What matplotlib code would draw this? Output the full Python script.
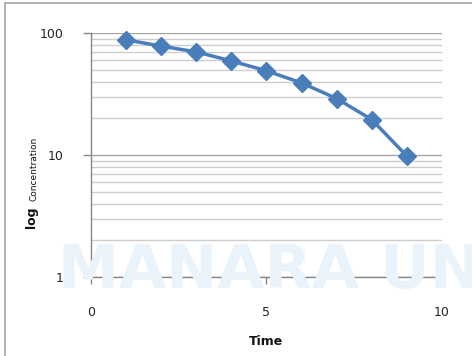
import matplotlib
matplotlib.use("Agg")
import matplotlib.pyplot as plt
from matplotlib.ticker import LogLocator, NullFormatter, FixedLocator, FixedFormatter
from matplotlib.lines import Line2D

# Concentration over time
time = [1, 2, 3, 4, 5, 6, 7, 8, 9]
concentration = [88, 78, 70, 59, 49, 39, 29, 19.5, 9.8]

x_ticks = [0, 5, 10]
y_ticks = [1, 10, 100]
y_tick_labels = ["1", "10", "100"]

line_color = "#4a7ebb"
minor_grid_color = "#cdcdcd"
major_grid_color = "#a8a8a8"
axis_color = "#868686"
text_color = "#222222"

fig = plt.figure(figsize=(4.72, 3.56), dpi=100)
fig.patch.set_facecolor("white")

# faint background watermark
fig.text(0.122, 0.155, "MANARA UNIVERSITY", fontsize=44, fontweight="bold",
         color="#ebf3fa", ha="left", va="bottom", zorder=0, clip_on=True)

ax = fig.add_axes([0.1928, 0.2219, 0.7436, 0.6854])
ax.set_facecolor("none")
ax.set_yscale("log")
ax.set_xlim(0, 10)
ax.set_ylim(1, 100)

ax.yaxis.set_major_locator(FixedLocator(y_ticks))
ax.yaxis.set_major_formatter(FixedFormatter(y_tick_labels))
ax.yaxis.set_minor_locator(LogLocator(base=10, subs=range(2, 10)))
ax.yaxis.set_minor_formatter(NullFormatter())
ax.xaxis.set_major_locator(FixedLocator(x_ticks))

ax.grid(True, which="minor", axis="y", color=minor_grid_color, linewidth=1.0)
ax.grid(True, which="major", axis="y", color=major_grid_color, linewidth=1.0)
ax.set_axisbelow(True)

for side in ["top", "right"]:
    ax.spines[side].set_visible(False)
for side in ["left", "bottom"]:
    ax.spines[side].set_color(axis_color)
    ax.spines[side].set_linewidth(1.0)

ax.tick_params(axis="y", which="major", length=6, width=1, color=axis_color,
               labelsize=9, labelcolor=text_color, pad=14)
ax.tick_params(axis="y", which="minor", length=0)
ax.tick_params(axis="x", which="major", length=5, width=1, color=axis_color,
               labelsize=9, labelcolor=text_color, pad=16)

ax.plot(time, concentration, color=line_color, linewidth=2.5, marker="D",
        markersize=9, markerfacecolor=line_color, markeredgecolor=line_color,
        zorder=3, clip_on=False)

fig.text(0.563, 0.042, "Time", fontsize=9, fontweight="bold", color="#111111",
         ha="center", va="center")
fig.text(0.066, 0.39, "log", fontsize=9, fontweight="bold", color="#111111",
         rotation=90, ha="center", va="center")
fig.text(0.071, 0.435, "Concentration", fontsize=6.5, color="#111111",
         rotation=90, ha="center", va="bottom")

# chart frame edges
fig.add_artist(Line2D([0.0106, 1.0], [0.9916, 0.9916], color="#a6a6a6", linewidth=1.2))
fig.add_artist(Line2D([0.0106, 0.0106], [0.0, 0.9916], color="#a6a6a6", linewidth=1.2))

fig.savefig("out.png", dpi=100, facecolor="white")
